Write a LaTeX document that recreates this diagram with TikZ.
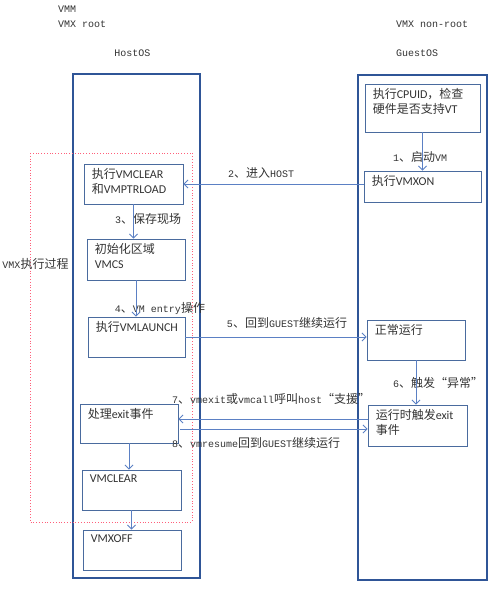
\documentclass[tikz,border=0pt]{standalone}
\usepackage{fontspec}
\setmainfont{Liberation Mono}
\newfontfamily\cjk{Noto Sans CJK SC}[Scale=1.2]
\newfontfamily\boxlat{Carlito}[Scale=1.2]
\newcommand{\zh}[1]{{\cjk #1}}
\usetikzlibrary{arrows.meta,calc}
\definecolor{colblue}{HTML}{2F5597}
\definecolor{boxblue}{HTML}{4A6B9E}
\definecolor{arrblue}{HTML}{5B80C4}
\definecolor{dotred}{HTML}{FF5F7A}
\definecolor{ink}{HTML}{333333}

\begin{document}
\begin{tikzpicture}[x=1pt,y=-1pt,
  font=\fontsize{10}{12}\selectfont,text=ink,
  col/.style={draw=colblue,line width=2.4pt,inner sep=0pt},
  box/.style={draw=boxblue,line width=.9pt,minimum width=98pt,minimum height=40pt,inner sep=0pt},
  boxt/.style={label={[txt]north west:{#1}}},
  txt/.style={anchor=north west,align=left,inner sep=0pt,xshift=8pt,yshift=-5pt,
              font=\fontsize{10}{15}\selectfont\boxlat},
  arr/.style={-{Straight Barb[length=4pt,width=8pt]},draw=arrblue,line width=.9pt},
  lbl/.style={inner sep=0pt}
]
  \useasboundingbox (0,0) rectangle (500,589);
  % headings
  \node[lbl,anchor=west] (vmm) at (58,9) {VMM};
  \node[lbl,anchor=west] (root) at (58,24) {VMX root};
  \node[lbl] (hostos) at (132.5,53) {HostOS};
  \node[lbl,anchor=west] (nonroot) at (396,24) {VMX non-root};
  \node[lbl,anchor=west] (guestos) at (396,53) {GuestOS};
  % columns
  \node[col,minimum width=127pt,minimum height=504pt] (host) at (136.5,326) {};
  \node[col,minimum width=129pt,minimum height=505pt] (guest) at (422.5,327.5) {};
  \draw[dotred,dotted,line width=.8pt] (30,153) rectangle (192,522);
  \node[lbl] (vmx) at (35.5,264) {VMX\zh{执行过程}};
  % guest side
  \node[box,minimum width=115pt,minimum height=48pt,
        boxt={\zh{执行}CPUID\zh{，检查}\\\zh{硬件是否支持}VT}] (cpuid) at (422.5,108) {};
  \node[box,minimum width=117pt,minimum height=31pt,boxt={\zh{执行}VMXON}] (vmxon) at (422.5,186.5) {};
  \node[box,boxt={\zh{正常运行}}] (normal) at (416,340) {};
  \node[box,minimum width=99pt,minimum height=41pt,boxt={\zh{运行时触发}exit\\\zh{事件}}] (exitg) at (417.5,425.5) {};
  % host side
  \node[box,minimum width=99pt,boxt={\zh{执行}VMCLEAR\\\zh{和}VMPTRLOAD}] (clr1) at (133.5,184) {};
  \node[box,minimum height=41pt,boxt={\zh{初始化区域}\\VMCS}] (vmcs) at (136,259.5) {};
  \node[box,minimum width=97pt,boxt={\zh{执行}VMLAUNCH}] (launch) at (136.5,337) {};
  \node[box,minimum height=39pt,boxt={\zh{处理}exit\zh{事件}}] (handle) at (129,423.5) {};
  \node[box,minimum width=99pt,boxt={VMCLEAR}] (vmclear) at (131.5,490) {};
  \node[box,boxt={VMXOFF}] (vmxoff) at (132,550) {};
  % steps
  \node[lbl] (s1) at (420,157) {1\zh{、启动}VM};
  \node[lbl] (s2) at (261,173) {2\zh{、进入}HOST};
  \node[lbl] (s3) at (148,219) {3\zh{、保存现场}};
  \node[lbl] (s4) at (160,308) {4\zh{、}VM entry\zh{操作}};
  \node[lbl] (s5) at (287,323) {5\zh{、回到}GUEST\zh{继续运行}};
  \node[lbl] (s6) at (438,383) {6\zh{、触发“异常”}};
  \node[lbl,anchor=west] (s7) at (172,399) {7\zh{、}vmexit\zh{或}vmcall\zh{呼叫}host\zh{“支援”}};
  \node[lbl,anchor=west] (s8) at (172,443) {8\zh{、}vmresume\zh{回到}GUEST\zh{继续运行}};
  % connectors
  \foreach \a/\b in {cpuid/vmxon,clr1/vmcs,vmcs/launch,normal/exitg,handle/vmclear,vmclear/vmxoff}
    \draw[arr] (\a.south) -- (\a.south |- \b.north);
  \draw[arr] (vmxon.west |- clr1.east) -- (clr1.east);
  \draw[arr] (launch.east) -- (launch.east -| normal.west);
  \coordinate (e7) at ($(exitg.west)+(0,-6.5)$);
  \coordinate (h8) at ($(handle.east)+(2,5.5)$);
  \draw[arr] (e7) -- (e7 -| handle.east);
  \draw[arr] (h8) -- (h8 -| exitg.west);
\end{tikzpicture}
\end{document}
